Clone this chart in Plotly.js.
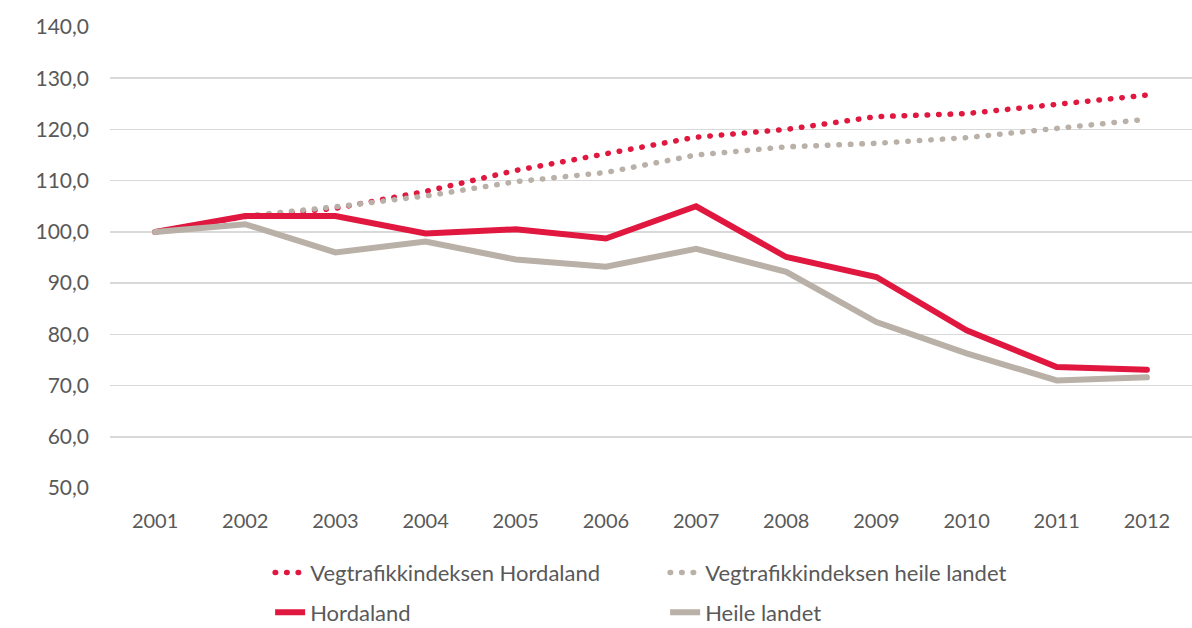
<!DOCTYPE html>
<html>
<head>
<meta charset="utf-8">
<script src="https://cdn.plot.ly/plotly-3.0.1.min.js"></script>
<style>
html, body { margin: 0; padding: 0; background: #fff; }
#chart { width: 1192px; height: 628px; }
.scatterlayer .js-line, .legend .js-line { stroke-linecap: round; }
</style>
</head>
<body>
<div id="chart"></div>
<script>
const years = ["2001","2002","2003","2004","2005","2006","2007","2008","2009","2010","2011","2012"];
const vegHordaland = [100.0, 103.0, 104.6, 107.9, 112.0, 115.3, 118.5, 120.0, 122.5, 123.1, 124.9, 126.7];
const vegHeile = [100.0, 103.1, 104.9, 107.0, 109.8, 111.6, 115.0, 116.6, 117.3, 118.4, 120.2, 122.0];
const hordaland = [100.0, 103.1, 103.1, 99.7, 100.5, 98.7, 105.0, 95.1, 91.2, 80.8, 73.6, 73.1];
const heileLandet = [100.0, 101.5, 96.0, 98.1, 94.6, 93.2, 96.7, 92.2, 82.4, 76.3, 71.0, 71.6];
const yTicks = [50, 60, 70, 80, 90, 100, 110, 120, 130, 140];
const yTickText = ["50,0","60,0","70,0","80,0","90,0","100,0","110,0","120,0","130,0","140,0"];

const red = "#E0173F";
const grey = "#B9B0A7";
const textColor = "#595959";
const fontFam = "Lato, 'Open Sans', sans-serif";

const traces = [
  {x: years, y: vegHordaland, name: "Vegtrafikkindeksen Hordaland", type: "scatter", mode: "lines",
   line: {color: red, width: 5.5, dash: "0.5px,11px"}, legend: "legend"},
  {x: years, y: vegHeile, name: "Vegtrafikkindeksen heile landet", type: "scatter", mode: "lines",
   line: {color: grey, width: 5.5, dash: "0.5px,11px"}, legend: "legend"},
  {x: years, y: hordaland, name: "Hordaland", type: "scatter", mode: "lines",
   line: {color: red, width: 6}, legend: "legend2"},
  {x: years, y: heileLandet, name: "Heile landet", type: "scatter", mode: "lines",
   line: {color: grey, width: 6}, legend: "legend2"}
];

const legendCommon = {
  orientation: "h", xanchor: "left", yanchor: "middle",
  font: {family: fontFam, size: 22, color: textColor},
  entrywidth: 350, entrywidthmode: "pixels", bgcolor: "rgba(0,0,0,0)", traceorder: "normal"
};

const layout = {
  width: 1192, height: 628,
  margin: {l: 110, r: 0, t: 27, b: 140, autoexpand: false},
  paper_bgcolor: "#fff", plot_bgcolor: "#fff",
  font: {family: fontFam, color: textColor, size: 21},
  showlegend: true,
  xaxis: {
    type: "category", range: [-0.5, 11.5], showgrid: false, zeroline: false, showline: false,
    ticks: "", tickfont: {family: fontFam, size: 20, color: textColor}, ticklabelstandoff: 19, fixedrange: true
  },
  yaxis: {
    range: [50, 140], tickvals: yTicks, ticktext: yTickText, showgrid: true, gridcolor: "#D9D9D9", gridwidth: 1.5,
    zeroline: false, showline: false, ticks: "", tickfont: {family: fontFam, size: 21, color: textColor},
    ticklabelstandoff: 20, fixedrange: true
  },
  legend: Object.assign({}, legendCommon, {x: 0.148, y: -0.184}),
  legend2: Object.assign({}, legendCommon, {x: 0.148, y: -0.27})
};

Plotly.newPlot("chart", traces, layout, {displayModeBar: false, staticPlot: true});
</script>
</body>
</html>
